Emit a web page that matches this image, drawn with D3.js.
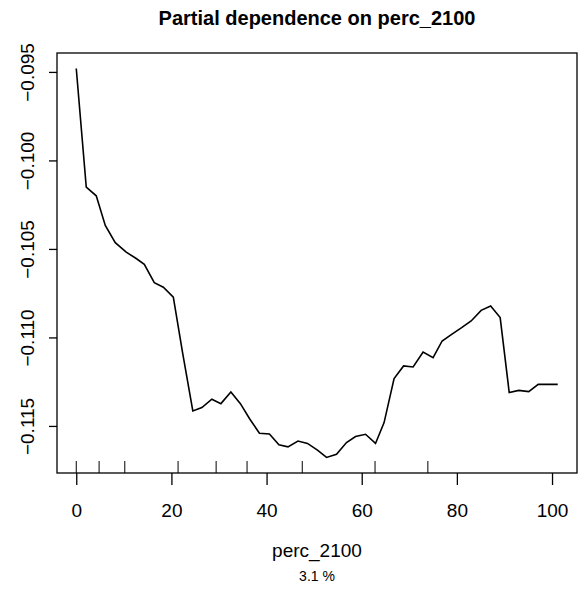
<!DOCTYPE html>
<html>
<head>
<meta charset="utf-8">
<script src="https://cdn.jsdelivr.net/npm/d3@7"></script>
<style>
  body { margin: 0; background: #fff; }
  svg text { font-family: "Liberation Sans", Arial, sans-serif; fill: #000; }
</style>
</head>
<body>
<div id="chart"></div>
<script>
// partial dependence values
var percX = [0, 2.1, 4.2, 6.1, 8.2, 10.5, 12.6, 14.3, 16.4, 18.3,
  20.4, 22.4, 24.5, 26.4, 28.5, 30.4, 32.5, 34.5, 36.5, 38.5,
  40.6, 42.6, 44.5, 46.6, 48.6, 50.7, 52.6, 54.7, 56.8, 58.7,
  60.8, 62.9, 64.7, 66.8, 68.8, 70.8, 72.9, 75.0, 76.9, 78.9,
  81.0, 83.0, 85.1, 87.1, 89.1, 91.0, 93.0, 95.1, 97.1, 99.2, 101.2];
var pdY = [-0.09481, -0.10151, -0.10200, -0.10367, -0.10465, -0.10518, -0.10554, -0.10587, -0.10691, -0.10716,
  -0.10772, -0.11094, -0.11415, -0.11396, -0.11349, -0.11374, -0.11308, -0.11374, -0.11462, -0.11541,
  -0.11545, -0.11607, -0.11618, -0.11585, -0.11599, -0.11637, -0.11678, -0.11660, -0.11594, -0.11560,
  -0.11547, -0.11599, -0.11481, -0.11232, -0.11161, -0.11167, -0.11082, -0.11114, -0.11020, -0.10983,
  -0.10945, -0.10907, -0.10847, -0.10823, -0.10888, -0.11311, -0.11299, -0.11306, -0.11265, -0.11265, -0.11265];
// deciles shown as a rug
var rugX = [0, 4.8, 10.2, 21.4, 29.4, 35.9, 47.5, 62.8, 73.9];
var xTicks = [0, 20, 40, 60, 80, 100];
var yTicks = [-0.115, -0.110, -0.105, -0.100, -0.095];
var varName = "perc_2100";
var relInf = "3.1 %";

var svgWidth = 585, svgHeight = 593;
var margin = { top: 53, right: 8, bottom: 120, left: 57 };
var width = svgWidth - margin.left - margin.right;
var height = svgHeight - margin.top - margin.bottom;

var svg = d3.select("#chart").append("svg")
  .attr("width", svgWidth)
  .attr("height", svgHeight);

var chartGroup = svg.append("g")
  .attr("transform", `translate(${margin.left}, ${margin.top})`);

// R style 4% padding around the data range
function padded(ext) {
  var r = ext[1] - ext[0];
  return [ext[0] - 0.04 * r, ext[1] + 0.04 * r];
}

var xScale = d3.scaleLinear().domain(padded(d3.extent(percX))).range([0, width]);
var yScale = d3.scaleLinear().domain(padded(d3.extent(pdY))).range([height, 0]);

var data = percX.map((x, i) => ({ x: x, y: pdY[i] }));

var bottomAxis = d3.axisBottom(xScale).tickValues(xTicks).tickSize(12).tickPadding(19)
  .tickFormat(d3.format("d"));
var leftAxis = d3.axisLeft(yScale).tickValues(yTicks).tickSize(8)
  .tickFormat(d3.format(".3f"));

var xAxis = chartGroup.append("g")
  .attr("transform", `translate(0, ${height})`)
  .call(bottomAxis);
xAxis.select(".domain").remove();
xAxis.selectAll("line").attr("stroke", "#000").attr("stroke-width", 1.3);
xAxis.selectAll("text").attr("font-size", 19).style("font-family", "Liberation Sans, Arial, sans-serif");

var yAxis = chartGroup.append("g").call(leftAxis);
yAxis.select(".domain").remove();
yAxis.selectAll("line").attr("stroke", "#000").attr("stroke-width", 1.3);
yAxis.selectAll("text")
  .attr("font-size", 19)
  .style("font-family", "Liberation Sans, Arial, sans-serif")
  .attr("text-anchor", "middle")
  .attr("x", 0).attr("dy", 0)
  .attr("transform", "translate(-23,0) rotate(-90)");

// rug
chartGroup.selectAll(".rug")
  .data(rugX)
  .enter()
  .append("line")
  .attr("x1", d => xScale(d))
  .attr("x2", d => xScale(d))
  .attr("y1", height)
  .attr("y2", height - 12)
  .attr("stroke", "#000")
  .attr("stroke-width", 1);

var line = d3.line().x(d => xScale(d.x)).y(d => yScale(d.y));
chartGroup.append("path")
  .datum(data)
  .attr("d", line)
  .attr("fill", "none")
  .attr("stroke", "#000")
  .attr("stroke-width", 1.6);

// box
chartGroup.append("rect")
  .attr("width", width)
  .attr("height", height)
  .attr("fill", "none")
  .attr("stroke", "#000")
  .attr("stroke-width", 1.3);

svg.append("text")
  .attr("x", margin.left + width / 2)
  .attr("y", 25)
  .attr("text-anchor", "middle")
  .attr("font-size", 20)
  .attr("font-weight", "bold")
  .text("Partial dependence on " + varName);

svg.append("text")
  .attr("x", margin.left + width / 2)
  .attr("y", 557)
  .attr("text-anchor", "middle")
  .attr("font-size", 19)
  .text(varName);

svg.append("text")
  .attr("x", margin.left + width / 2)
  .attr("y", 581)
  .attr("text-anchor", "middle")
  .attr("font-size", 14)
  .text(relInf);
</script>
</body>
</html>
